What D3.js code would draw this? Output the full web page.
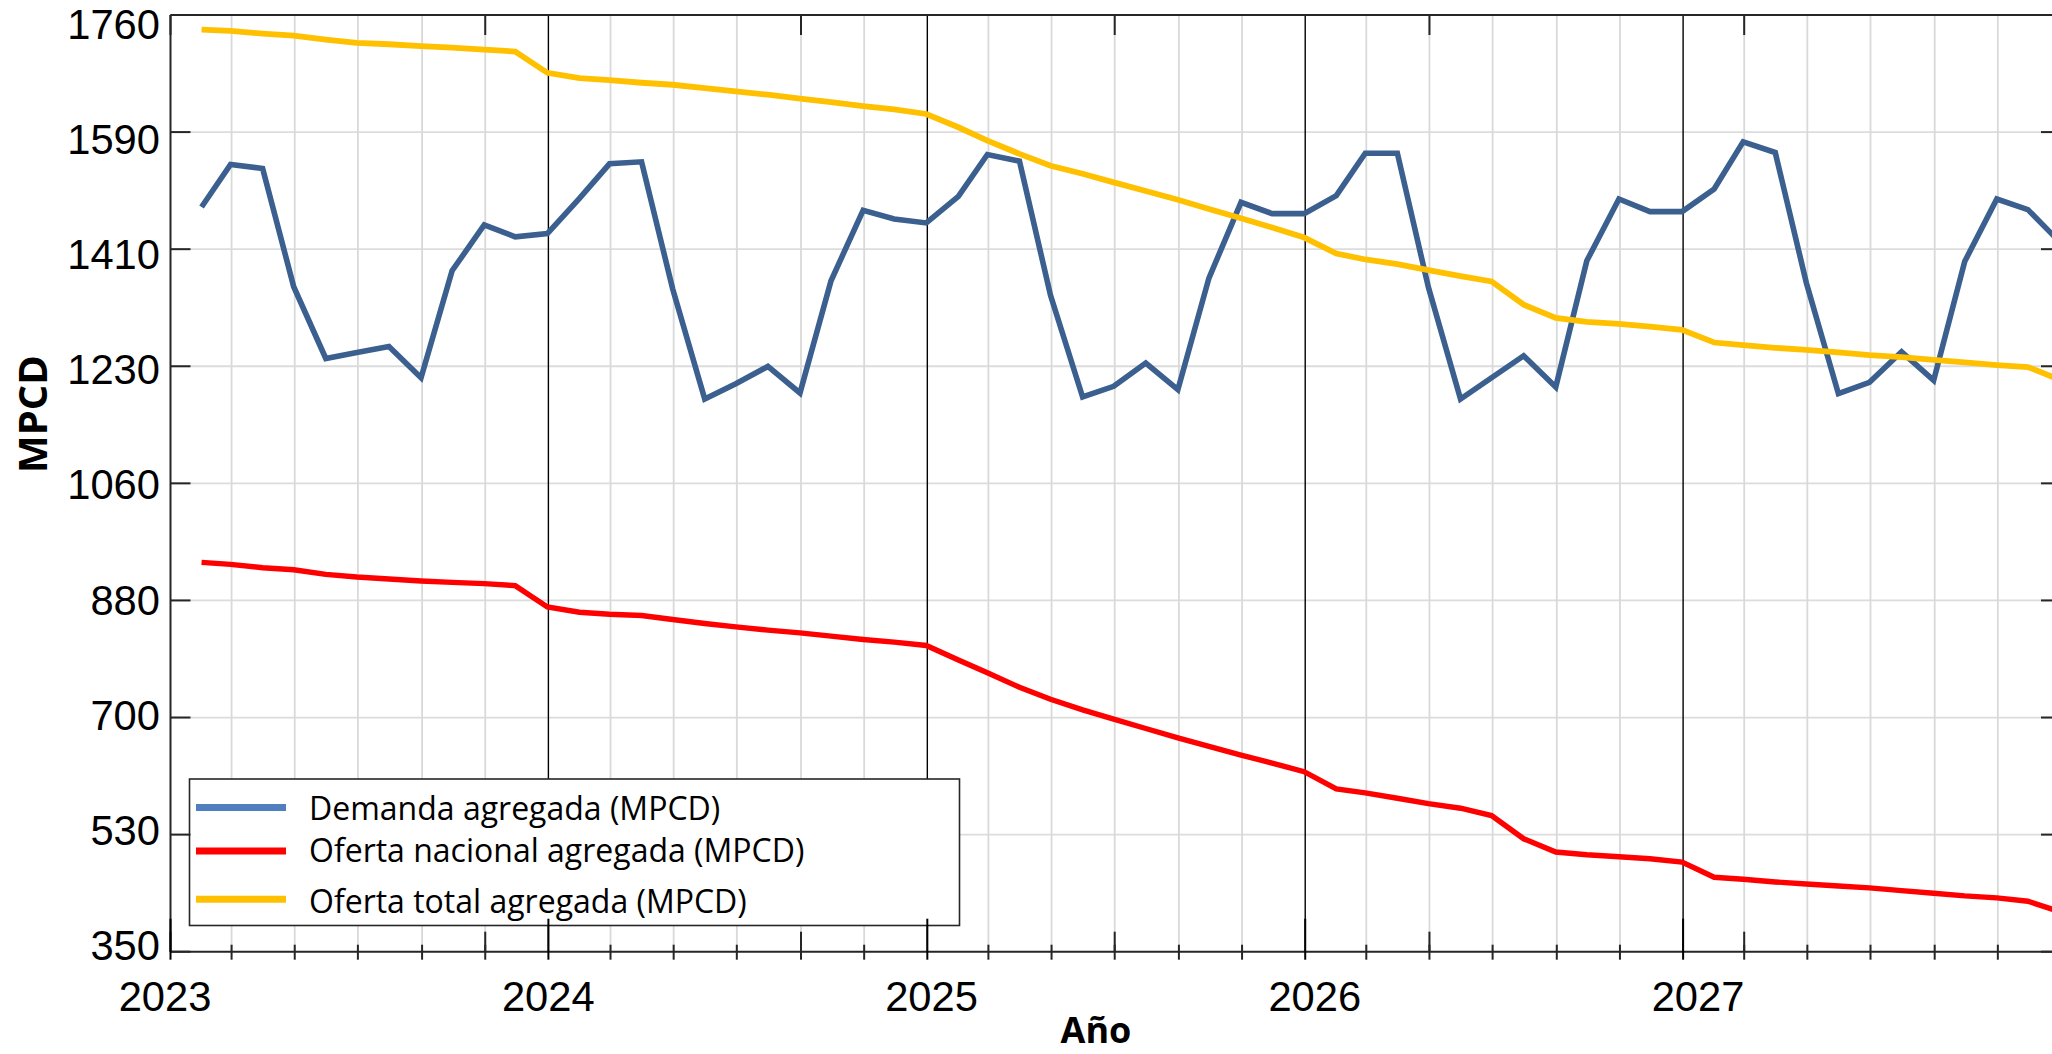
<!DOCTYPE html>
<html>
<head>
<meta charset="utf-8">
<script src="https://cdn.jsdelivr.net/npm/d3@7"></script>
<style>
  html, body { margin: 0; padding: 0; background: #fff; overflow: hidden; }
  svg { display: block; }
  text { font-family: "Open Sans", "Noto Sans", sans-serif; fill: #000; }
  .tick-label { font-family: "Liberation Sans", Arial, sans-serif; }
</style>
</head>
<body>
<svg id="chart" width="2052" height="1054"></svg>
<script>
// ---------------- DATA ----------------
const startYear = 2023;
const yearLabels = ["2023", "2024", "2025", "2026", "2027"];
const yTickLabels = ["350", "530", "700", "880", "1060", "1230", "1410", "1590", "1760"];
const seriesNames = ["Demanda agregada (MPCD)", "Oferta nacional agregada (MPCD)", "Oferta total agregada (MPCD)"];

// monthly values, Jan 2023 .. Dec 2027
const demanda = [
  1471, 1535, 1529, 1351, 1243, 1252, 1261, 1214, 1375, 1444, 1426, 1431,
  1484, 1536, 1539, 1348, 1182, 1205, 1231, 1191, 1360, 1466, 1453, 1447,
  1487, 1550, 1540, 1338, 1185, 1201, 1236, 1196, 1364, 1478, 1461, 1461,
  1488, 1552, 1552, 1350, 1182, 1214, 1247, 1200, 1390, 1483, 1464, 1464,
  1498, 1569, 1553, 1357, 1190, 1207, 1253, 1210, 1389, 1483, 1467, 1418
];
const ofertaNacional = [
  936, 933, 928, 925, 918, 914, 911, 908, 906, 904, 901, 869,
  861, 858, 856, 850, 844, 839, 834, 830, 825, 820, 816, 811,
  789, 770, 748, 730, 714, 700, 686, 672, 659, 646, 634, 621,
  595, 589, 581, 573, 566, 555, 520, 500, 496, 493, 490, 485,
  462, 459, 455, 452, 449, 446, 442, 438, 434, 431, 426, 410
];
const ofertaTotal = [
  1738, 1736, 1732, 1729, 1723, 1718, 1716, 1713, 1711, 1708, 1705, 1673,
  1665, 1662, 1658, 1655, 1650, 1645, 1640, 1634, 1629, 1623, 1618, 1611,
  1591, 1571, 1551, 1533, 1521, 1508, 1495, 1482, 1468, 1454, 1440, 1425,
  1401, 1392, 1385, 1376, 1367, 1359, 1324, 1304, 1298, 1295, 1291, 1286,
  1267, 1263, 1259, 1256, 1252, 1248, 1245, 1241, 1237, 1233, 1230, 1211
];

// ---------------- LAYOUT ----------------
const pL = 170.5, pR = 2061, pT = 15, pB = 951.7;
const axisColor = "#262626";
const colors = ["#3b608f", "#ff0000", "#ffc000"];
const widths = [5.6, 5.4, 5.8];
const legendColors = ["#4f7fbf", "#ff0000", "#ffc000"];

const svg = d3.select("#chart");

const x = d3.scaleTime()
  .domain([new Date(startYear, 0, 1), new Date(startYear + 5, 0, 1)])
  .range([pL, pR]);
const y = d3.scaleLinear().domain([350, 1760]).range([pB, pT]);

// label placement scales (labels in the reference sit on a slightly different grid)
const xLab = d3.scaleLinear().domain([0, 5]).range([165, 165 + 5 * 383.25]);
const yLab = d3.scaleLinear().domain([0, 8]).range([945, 24.5]);

const yTicks = d3.range(9).map(i => 350 + i * (1760 - 350) / 8);
const dates = demanda.map((d, i) => new Date(startYear, i + 1, 0));

const gGrid = svg.append("g");
gGrid.selectAll("line.h").data(yTicks.slice(1, -1)).join("line")
  .attr("x1", pL).attr("x2", pR)
  .attr("y1", d => y(d)).attr("y2", d => y(d))
  .attr("stroke", "#dcdcdc").attr("stroke-width", 1.8);

const twoMonths = d3.timeMonth.range(new Date(startYear, 0, 1), new Date(startYear + 5, 0, 1), 2);
gGrid.selectAll("line.v").data(twoMonths.filter(d => d.getMonth() !== 0)).join("line")
  .attr("x1", d => x(d)).attr("x2", d => x(d))
  .attr("y1", pT).attr("y2", pB)
  .attr("stroke", "#d9d9d9").attr("stroke-width", 1.8);
const yearDates = d3.timeYear.range(new Date(startYear + 1, 0, 1), new Date(startYear + 5, 0, 1));
gGrid.selectAll("line.yr").data(yearDates).join("line")
  .attr("x1", d => x(d)).attr("x2", d => x(d))
  .attr("y1", pT).attr("y2", pB)
  .attr("stroke", "#000").attr("stroke-width", 1.4);

// ---------------- LINES ----------------
const line = d3.line().x((d, i) => x(dates[i])).y(d => y(d)).curve(d3.curveLinear);
const series = [demanda, ofertaNacional, ofertaTotal];
const gLines = svg.append("g");
series.forEach((s, k) => {
  gLines.append("path").datum(s)
    .attr("d", line)
    .attr("fill", "none")
    .attr("stroke", colors[k])
    .attr("stroke-width", widths[k])
    .attr("stroke-linejoin", "miter")
    .attr("stroke-linecap", "butt");
});

// ---------------- LEGEND ----------------
const lg = svg.append("g");
lg.append("rect").attr("x", 189.5).attr("y", 779).attr("width", 770).attr("height", 146.5)
  .attr("fill", "#fff").attr("stroke", axisColor).attr("stroke-width", 1.6);
const legLineY = [807.4, 850.9, 899.3];
const legTextY = [819.8, 862.2, 912.7];
seriesNames.forEach((n, k) => {
  lg.append("line").attr("x1", 196).attr("x2", 286)
    .attr("y1", legLineY[k]).attr("y2", legLineY[k])
    .attr("stroke", legendColors[k]).attr("stroke-width", 7);
  lg.append("text").attr("x", 309).attr("y", legTextY[k])
    .attr("font-size", 32).text(n);
});

// ---------------- AXES ----------------
const gAx = svg.append("g");
[[pL, pT, pR, pT], [pL, pB, pR, pB], [pL, pT, pL, pB], [pR, pT, pR, pB]].forEach(c => {
  gAx.append("line").attr("x1", c[0]).attr("y1", c[1]).attr("x2", c[2]).attr("y2", c[3])
    .attr("stroke", axisColor).attr("stroke-width", 2);
});

gAx.selectAll("line.yl").data(yTicks).join("line")
  .attr("x1", pL).attr("x2", pL + 20).attr("y1", d => y(d)).attr("y2", d => y(d))
  .attr("stroke", axisColor).attr("stroke-width", 2);
gAx.selectAll("line.yr2").data(yTicks).join("line")
  .attr("x1", pR - 20).attr("x2", pR).attr("y1", d => y(d)).attr("y2", d => y(d))
  .attr("stroke", axisColor).attr("stroke-width", 2);

const gMinor = gAx.append("g");
gMinor.selectAll("line").data(twoMonths.filter(d => d.getMonth() !== 0)).join("line")
  .attr("x1", d => x(d)).attr("x2", d => x(d)).attr("y1", pB - 7).attr("y2", pB + 8)
  .attr("stroke", axisColor).attr("stroke-width", 2);
const tenMonths = d3.timeMonth.range(new Date(startYear, 0, 1), new Date(startYear + 5, 0, 1), 10);
const gTen = gAx.append("g");
gTen.selectAll("line").data(tenMonths).join("line")
  .attr("x1", d => x(d)).attr("x2", d => x(d)).attr("y1", pT).attr("y2", pT + 20)
  .attr("stroke", axisColor).attr("stroke-width", 2);
const gTenB = gAx.append("g");
gTenB.selectAll("line").data(tenMonths).join("line")
  .attr("x1", d => x(d)).attr("x2", d => x(d)).attr("y1", pB - 20).attr("y2", pB)
  .attr("stroke", axisColor).attr("stroke-width", 2);
const allYears = d3.timeYear.range(new Date(startYear, 0, 1), new Date(startYear + 5, 0, 1));
const gYT = gAx.append("g");
gYT.selectAll("line").data(allYears).join("line")
  .attr("x1", d => x(d)).attr("x2", d => x(d)).attr("y1", pB - 33).attr("y2", pB + 8)
  .attr("stroke", "#000").attr("stroke-width", 2);

const gYL = gAx.append("g");
gYL.selectAll("text").data(yTickLabels).join("text")
  .attr("class", "tick-label")
  .attr("text-anchor", "end")
  .attr("dominant-baseline", "central")
  .attr("font-size", 43)
  .attr("transform", (d, i) => `translate(160,${yLab(i)}) scale(0.97,1)`)
  .text(d => d);

const gXL = gAx.append("g");
gXL.selectAll("text").data(yearLabels).join("text")
  .attr("class", "tick-label")
  .attr("text-anchor", "middle")
  .attr("dominant-baseline", "central")
  .attr("font-size", 43)
  .attr("transform", (d, i) => `translate(${xLab(i)},996) scale(0.97,1)`)
  .text(d => d);

svg.append("text").attr("x", 1096).attr("y", 1043).attr("text-anchor", "middle")
  .attr("font-size", 36).attr("font-weight", "bold").text("Año");
svg.append("text").attr("transform", "translate(46.5,414) rotate(-90)")
  .attr("text-anchor", "middle").attr("font-size", 40).attr("font-weight", "bold").text("MPCD");
</script>
</body>
</html>
